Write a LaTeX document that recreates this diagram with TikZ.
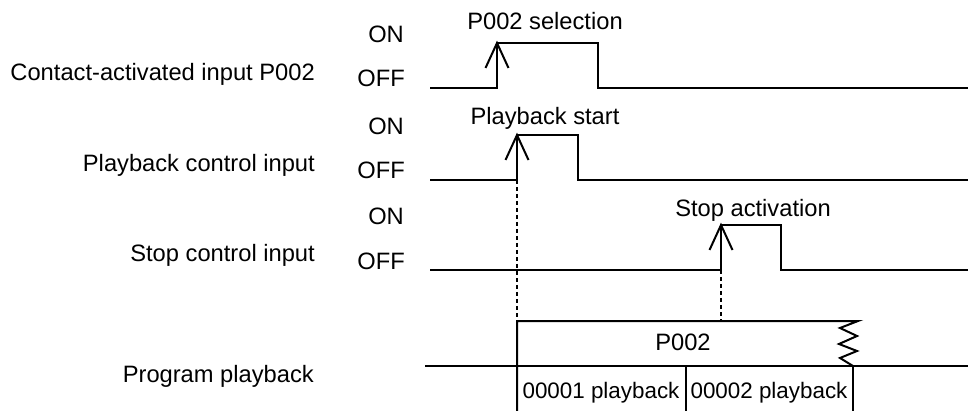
\documentclass[tikz,border=0pt]{standalone}
\usepackage{fontspec}
\setmainfont{Liberation Sans}
\begin{document}
\begin{tikzpicture}[x=1pt,y=-1pt,
  lbl/.style={inner sep=0pt,font=\fontsize{23.7}{28}\selectfont},
  seglbl/.style={inner sep=0pt,font=\fontsize{22.4}{28}\selectfont},
  wave/.style={line width=2pt,line join=miter},
  vee/.style={line width=2pt},
  dashline/.style={line width=1.5pt,dash pattern=on 4pt off 3pt},
  box/.style={line width=2pt}]
\useasboundingbox (0,0) rectangle (968,411);
% left labels
\node[lbl,anchor=base east] (l1) at (315,81) {Contact-activated input P002};
\node[lbl,anchor=base east] (l2) at (315,172) {Playback control input};
\node[lbl,anchor=base east] (l3) at (315,262) {Stop control input};
\node[lbl,anchor=base east] (l4) at (314,382) {Program playback};
% ON/OFF
\node[lbl,anchor=base east] (on1) at (404,43) {ON};
\node[lbl,anchor=base east] (off1) at (405,87) {OFF};
\node[lbl,anchor=base east] (on2) at (404,135) {ON};
\node[lbl,anchor=base east] (off2) at (405,179) {OFF};
\node[lbl,anchor=base east] (on3) at (404,225) {ON};
\node[lbl,anchor=base east] (off3) at (405,270) {OFF};
% event labels
\node[lbl,anchor=base] (e1) at (545,30) {P002 selection};
\node[lbl,anchor=base] (e2) at (545,125) {Playback start};
\node[lbl,anchor=base] (e3) at (753,217) {Stop activation};
% signal coordinates
\coordinate (s1a) at (430,88);
\coordinate (r1b) at (497,88);
\coordinate (r1t) at (497,43);
\coordinate (f1t) at (598,43);
\coordinate (f1b) at (598,88);
\coordinate (s1z) at (968,88);
\coordinate (s2a) at (430,180);
\coordinate (r2b) at (517,180);
\coordinate (r2t) at (517,135);
\coordinate (f2t) at (578,135);
\coordinate (f2b) at (578,180);
\coordinate (s2z) at (968,180);
\coordinate (s3a) at (430,270);
\coordinate (r3b) at (721,270);
\coordinate (r3t) at (721,225);
\coordinate (f3t) at (781,225);
\coordinate (f3b) at (781,270);
\coordinate (s3z) at (968,270);
% waveforms
\draw[wave] (s1a) -- (r1b) -- (r1t) -- (f1t) -- (f1b) -- (s1z);
\draw[wave] (s2a) -- (r2b) -- (r2t) -- (f2t) -- (f2b) -- (s2z);
\draw[wave] (s3a) -- (r3b) -- (r3t) -- (f3t) -- (f3b) -- (s3z);
% open arrowheads at rising edges
\draw[vee] ([xshift=-11.5pt,yshift=-25pt]r1t) -- (r1t) -- ([xshift=11.5pt,yshift=-25pt]r1t);
\draw[vee] ([xshift=-11.5pt,yshift=-25pt]r2t) -- (r2t) -- ([xshift=11.5pt,yshift=-25pt]r2t);
\draw[vee] ([xshift=-11.5pt,yshift=-25pt]r3t) -- (r3t) -- ([xshift=11.5pt,yshift=-25pt]r3t);
% program playback
\coordinate (pbl) at (517,411);
\coordinate (ptl) at (517,321);
\coordinate (ptr) at (858,321);
\coordinate (pml) at (425,366);
\coordinate (pmr) at (968,366);
\coordinate (pm1) at (686,366);
\coordinate (pb1) at (686,411);
\coordinate (pm2) at (853,366);
\coordinate (pb2) at (853,411);
\draw[box] (pbl) -- (ptl) -- (ptr)
  -- (840,328) -- (857,336) -- (839,344) -- (857,351) -- (840,358) -- (pm2);
\draw[box] (pml) -- (pmr);
\draw[box] (pm1) -- (pb1);
\draw[box] (pm2) -- (pb2);
% dashed guides
\draw[dashline] (r2b) -- (517,321);
\draw[dashline] (r3b) -- (721,321);
% program labels
\node[lbl,anchor=base] (p0) at (683,350) {P002};
\node[seglbl,anchor=base] (p1) at (601,398) {00001 playback};
\node[seglbl,anchor=base] (p2) at (769,398) {00002 playback};
\end{tikzpicture}
\end{document}
